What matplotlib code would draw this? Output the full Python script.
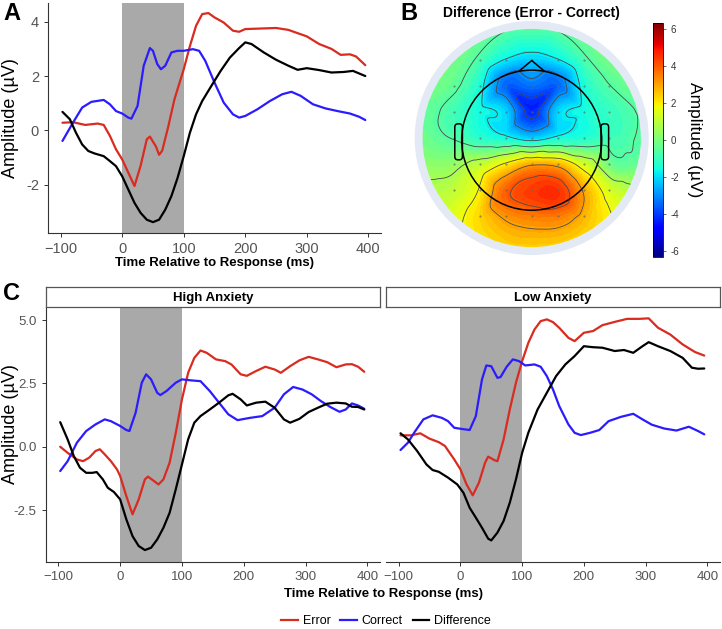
# ERN figure: grand averages, difference topography, and anxiety split
import numpy as np
import matplotlib
matplotlib.use('Agg')
import matplotlib.pyplot as plt
import matplotlib.tri as mtri
from matplotlib.patches import Circle, Polygon, FancyBboxPatch
from matplotlib.colors import Normalize
from matplotlib.cm import ScalarMappable

plt.rcParams['font.family'] = ['Liberation Sans', 'DejaVu Sans']

RED = '#d92b1f'
BLUE = '#2b1bff'
BLACK = '#000000'
SHADE = '#a9a9a9'
TICKC = '#555555'

# ---- Panel A: all participants ----
a_err_t = [-97, -80, -60, -40, -30, -20, -10, 0, 10, 20, 30, 40, 45, 55, 60, 65, 75, 85, 100,
           110, 120, 130, 140, 150, 165, 180, 190, 200, 225, 250, 270, 290, 300, 320, 340, 355,
           370, 380, 395]
a_err_v = [0.28, 0.3, 0.2, 0.25, 0.2, -0.2, -0.7, -1.07, -1.56, -2.05, -1.3, -0.33, -0.23, -0.6,
           -0.9, -0.75, 0.15, 1.15, 2.25, 3.1, 3.85, 4.28, 4.32, 4.16, 3.97, 3.67, 3.63, 3.73,
           3.75, 3.77, 3.7, 3.54, 3.46, 3.18, 3.0, 2.78, 2.8, 2.72, 2.4]
a_cor_t = [-97, -80, -65, -50, -30, -20, -10, 0, 10, 15, 25, 35, 45, 50, 57, 63, 70, 80, 90, 100,
           115, 125, 135, 150, 165, 180, 190, 200, 220, 240, 260, 275, 290, 310, 330, 350, 370,
           385, 395]
a_cor_v = [-0.39, 0.28, 0.84, 1.05, 1.12, 0.96, 0.71, 0.62, 0.47, 0.43, 0.9, 2.38, 3.03, 2.93,
           2.44, 2.25, 2.38, 2.87, 2.93, 2.93, 2.99, 2.93, 2.56, 1.76, 1.02, 0.59, 0.47, 0.53,
           0.78, 1.08, 1.33, 1.42, 1.27, 0.96, 0.81, 0.71, 0.62, 0.5, 0.38]
a_dif_t = [-97, -85, -75, -65, -55, -45, -30, -20, -10, 0, 10, 20, 30, 40, 50, 60, 70, 80, 90,
           100, 110, 120, 130, 145, 160, 175, 190, 200, 210, 230, 250, 270, 285, 300, 320, 340,
           360, 375, 395]
a_dif_v = [0.68, 0.41, -0.09, -0.52, -0.76, -0.85, -0.95, -1.13, -1.32, -1.69, -2.18, -2.67,
           -3.04, -3.29, -3.38, -3.29, -2.92, -2.42, -1.75, -0.95, -0.09, 0.59, 1.08, 1.64, 2.19,
           2.68, 3.03, 3.24, 3.18, 2.87, 2.6, 2.38, 2.23, 2.29, 2.22, 2.13, 2.15, 2.19, 2.0]

# ---- Panel C: high anxiety ----
hi_err_t = [-97, -85, -70, -60, -50, -40, -33, -25, -15, -5, 0, 10, 20, 30, 40, 45, 55, 62, 70,
            80, 90, 100, 110, 120, 130, 140, 155, 170, 180, 195, 205, 220, 235, 250, 260, 275,
            290, 305, 320, 335, 350, 365, 375, 385, 395]
hi_err_v = [0.0, -0.24, -0.5, -0.57, -0.43, -0.17, -0.1, -0.3, -0.57, -0.9, -1.16, -1.95, -2.67,
            -2.08, -1.29, -1.18, -1.36, -1.49, -1.29, -0.63, 0.55, 1.87, 2.92, 3.51, 3.8, 3.71,
            3.45, 3.38, 3.25, 2.86, 2.8, 2.99, 3.16, 3.05, 2.92, 3.18, 3.41, 3.55, 3.45, 3.34,
            3.14, 3.25, 3.26, 3.16, 2.96]
hi_cor_t = [-97, -85, -70, -55, -40, -25, -15, 0, 10, 15, 25, 35, 42, 50, 60, 65, 75, 90, 100,
            115, 130, 145, 160, 175, 190, 210, 230, 250, 265, 280, 295, 310, 325, 340, 355, 365,
            375, 385, 395]
hi_cor_v = [-0.96, -0.57, 0.16, 0.62, 0.88, 1.08, 1.01, 0.82, 0.66, 0.62, 1.34, 2.53, 2.86, 2.66,
            2.13, 2.04, 2.2, 2.53, 2.66, 2.62, 2.59, 2.2, 1.74, 1.28, 1.05, 1.14, 1.21, 1.54,
            2.07, 2.36, 2.26, 2.07, 1.8, 1.57, 1.38, 1.47, 1.71, 1.63, 1.5]
hi_dif_t = [-97, -85, -75, -65, -55, -45, -38, -28, -20, -10, 0, 10, 20, 30, 40, 50, 60, 70, 80,
            90, 100, 110, 120, 130, 145, 160, 175, 182, 195, 205, 220, 235, 250, 265, 275, 290,
            305, 320, 335, 350, 365, 375, 385, 395]
hi_dif_v = [0.97, 0.29, -0.37, -0.83, -1.03, -1.03, -1.0, -1.29, -1.62, -1.79, -2.08, -2.87,
            -3.53, -3.92, -4.08, -3.99, -3.66, -3.2, -2.61, -1.68, -0.7, 0.29, 0.95, 1.21, 1.47,
            1.74, 2.03, 2.09, 1.87, 1.63, 1.74, 1.78, 1.54, 1.08, 0.95, 1.1, 1.37, 1.54, 1.7,
            1.74, 1.71, 1.58, 1.57, 1.47]

# ---- Panel C: low anxiety ----
lo_err_t = [-97, -80, -65, -50, -35, -25, -10, 0, 10, 20, 30, 40, 45, 55, 60, 70, 80, 90, 100,
            110, 120, 130, 140, 150, 160, 175, 185, 200, 215, 230, 250, 270, 290, 305, 320, 340,
            360, 380, 395]
lo_err_v = [0.45, 0.45, 0.53, 0.32, 0.18, 0.03, -0.5, -0.89, -1.49, -1.92, -1.42, -0.63, -0.39,
            -0.53, -0.57, 0.29, 1.47, 2.53, 3.38, 4.1, 4.63, 4.96, 5.03, 4.92, 4.7, 4.3, 4.17,
            4.5, 4.57, 4.8, 4.93, 5.05, 5.05, 5.07, 4.7, 4.43, 4.04, 3.74, 3.6]
lo_cor_t = [-97, -85, -75, -60, -45, -30, -20, -10, 0, 15, 25, 35, 42, 50, 60, 65, 75, 85, 95,
            105, 120, 130, 140, 150, 160, 175, 185, 195, 210, 225, 240, 260, 280, 295, 310, 330,
            350, 370, 385, 395]
lo_cor_v = [-0.13, 0.16, 0.55, 1.08, 1.24, 1.14, 1.01, 0.75, 0.71, 0.66, 1.21, 2.66, 3.21, 3.18,
            2.72, 2.75, 3.16, 3.45, 3.38, 3.21, 3.25, 3.16, 2.79, 2.26, 1.61, 0.88, 0.55, 0.46,
            0.55, 0.66, 1.01, 1.18, 1.3, 1.08, 0.87, 0.72, 0.64, 0.79, 0.62, 0.49]
lo_dif_t = [-97, -85, -70, -55, -45, -35, -20, -5, 5, 15, 25, 35, 45, 50, 60, 70, 80, 90, 100,
            110, 125, 140, 155, 170, 185, 200, 215, 230, 250, 265, 280, 295, 305, 320, 340, 360,
            375, 385, 395]
lo_dif_v = [0.53, 0.29, -0.17, -0.7, -0.92, -0.99, -1.22, -1.49, -1.82, -2.41, -2.8, -3.2,
            -3.63, -3.7, -3.39, -2.93, -2.21, -1.29, -0.24, 0.55, 1.47, 2.13, 2.79, 3.25, 3.58,
            3.97, 3.93, 3.91, 3.78, 3.82, 3.71, 3.97, 4.13, 3.97, 3.78, 3.51, 3.12, 3.08, 3.09]

# ---- Panel B: difference topography on a 9x9 scalp grid (rows top -> bottom) ----
topo_x = [-1, -0.75, -0.5, -0.25, 0, 0.25, 0.5, 0.75, 1]
topo_y = [1, 0.75, 0.5, 0.25, 0, -0.25, -0.5, -0.75, -1]
topo_v = [
    [0.2, 0.1, -0.2, -0.5, -0.6, -0.5, -0.2, 0.1, 0.2],
    [0.2, 0.0, -0.6, -1.6, -2.0, -1.6, -0.6, 0.0, 0.2],
    [0.0, -0.3, -1.3, -3.4, -3.2, -3.4, -1.3, -0.5, 0.0],
    [-0.3, -0.8, -1.5, -2.1, -4.3, -2.1, -1.5, -1.0, -0.5],
    [-0.2, -0.6, -1.2, -1.6, -2.2, -1.6, -1.3, -0.9, -0.5],
    [0.3, 0.3, 1.0, 2.0, 3.0, 2.8, 1.3, -0.3, -0.3],
    [0.8, 1.0, 1.8, 3.8, 4.4, 4.5, 2.8, 1.3, 0.8],
    [1.2, 1.5, 2.2, 3.0, 3.3, 3.3, 2.6, 1.8, 1.4],
    [1.5, 1.7, 2.0, 2.3, 2.4, 2.3, 2.0, 1.7, 1.5],
]
cbar_ticks = [-6, -4, -2, 0, 2, 4, 6]

W, H = 722, 629
fig = plt.figure(figsize=(W / 100, H / 100), dpi=100)


def px_axes(x0, y0, x1, y1):
    # axes from pixel box (top-left origin)
    return fig.add_axes([x0 / W, 1 - y1 / H, (x1 - x0) / W, (y1 - y0) / H])


def style_erp(ax, ylim, yticks, tsize, show_y=True):
    ax.axvspan(0, 100, color=SHADE, lw=0, zorder=0)
    ax.set_xlim(-120.5, 420.5)
    ax.set_ylim(*ylim)
    ax.set_xticks([-100, 0, 100, 200, 300, 400])
    ax.set_yticks(yticks)
    for s in ['top', 'right']:
        ax.spines[s].set_visible(False)
    for s in ['left', 'bottom']:
        ax.spines[s].set_color('#333333')
        ax.spines[s].set_linewidth(0.8)
    ax.tick_params(colors='#333333', labelcolor=TICKC, labelsize=tsize, length=3, width=0.7)
    if not show_y:
        ax.spines['left'].set_visible(False)
        ax.tick_params(axis='y', left=False, labelleft=False)


def draw_lines(ax, series):
    for t, v, c in series:
        ax.plot(t, v, color=c, lw=1.6, solid_joinstyle='round', solid_capstyle='round')


# Panel A
axA = px_axes(48, 3, 381, 233)
style_erp(axA, (-3.78, 4.69), [-2, 0, 2, 4], 10.5)
axA.set_yticklabels(['-2', '0', '2', '4'])
draw_lines(axA, [(a_err_t, a_err_v, RED), (a_cor_t, a_cor_v, BLUE), (a_dif_t, a_dif_v, BLACK)])
axA.set_ylabel('Amplitude (µV)', fontsize=13)
axA.yaxis.set_label_coords(-(48 - 19) / 333, 0.5)
axA.set_xlabel('Time Relative to Response (ms)', fontsize=9.5, fontweight='bold', labelpad=1)
fig.text(3 / W, 1 - 20 / H, 'A', fontsize=17, fontweight='bold')

# Panel B
axB = px_axes(411.7, 18, 651.7, 258)
axB.set_xlim(-1.10, 1.10)
axB.set_ylim(-1.10, 1.10)
axB.set_aspect('equal')
axB.axis('off')
gx, gy = np.meshgrid(topo_x, topo_y)
tri = mtri.Triangulation(gx.ravel(), gy.ravel())
interp = mtri.CubicTriInterpolator(tri, np.array(topo_v).ravel(), kind='geom')
fx, fy = np.meshgrid(np.linspace(-1, 1, 241), np.linspace(-1, 1, 241))
fz = interp(fx, fy)
axB.add_patch(Circle((0, 0), 1.073, color='#e3e9f5', lw=0, zorder=0))
disc = Circle((0, 0), 1.0, transform=axB.transData)
norm = Normalize(-6.3, 6.3)
cf = axB.contourf(fx, fy, fz, levels=np.linspace(-6.3, 6.3, 64), cmap='jet', norm=norm,
                  extend='both', zorder=1)
cf.set_clip_path(disc)
cl = axB.contour(fx, fy, fz, levels=[-4.0, -3.0, -1.8, -0.6, 0.6, 1.8, 3.0, 4.0],
                 colors='#4a4a4a', linewidths=0.6, linestyles='solid', zorder=2)
cl.set_clip_path(disc)
inside = gx ** 2 + gy ** 2 < 0.9
axB.plot(gx[inside] * 0.95, gy[inside] * 0.95, '.', color='#666666', ms=0.8, zorder=3)
# head outline
axB.add_patch(Circle((0, -0.02), 0.642, fill=False, ec='black', lw=1.1, zorder=4))
axB.add_patch(Polygon([[-0.12, 0.61], [0, 0.71], [0.12, 0.61]], closed=False, fill=False,
                      ec='black', lw=1.1, zorder=4))
for sgn in (-1, 1):
    axB.add_patch(FancyBboxPatch((sgn * 0.67 - 0.025, -0.19), 0.05, 0.31,
                                 boxstyle='round,pad=0.01,rounding_size=0.03',
                                 fill=False, ec='black', lw=1.1, zorder=4))
fig.text(400 / W, 1 - 20 / H, 'B', fontsize=17, fontweight='bold')
fig.text(531 / W, 1 - 17 / H, 'Difference (Error - Correct)', fontsize=10, fontweight='bold',
         ha='center')

cax = px_axes(653, 23, 663, 257)
cb = fig.colorbar(ScalarMappable(norm=norm, cmap='jet'), cax=cax, ticks=cbar_ticks)
cb.outline.set_linewidth(0.6)
cax.tick_params(labelsize=7, length=2, width=0.5, colors='#333333')
cax.set_yticklabels([str(t) for t in cbar_ticks])
cb.set_label('Amplitude (µV)', fontsize=12.5, rotation=270, labelpad=16)

# Panel C
ylimC = (-4.54, 5.53)
axH = px_axes(45.7, 306.7, 380, 561.7)
style_erp(axH, ylimC, [-2.5, 0, 2.5, 5.0], 9.5)
axH.set_yticklabels(['-2.5', '0.0', '2.5', '5.0'])
draw_lines(axH, [(hi_err_t, hi_err_v, RED), (hi_cor_t, hi_cor_v, BLUE), (hi_dif_t, hi_dif_v, BLACK)])
axH.set_ylabel('Amplitude (µV)', fontsize=13)
axH.yaxis.set_label_coords(-(45.7 - 19) / 334.3, (561.7 - 424) / 255)

axL = px_axes(386, 306.7, 720, 561.7)
style_erp(axL, ylimC, [-2.5, 0, 2.5, 5.0], 9.5, show_y=False)
draw_lines(axL, [(lo_err_t, lo_err_v, RED), (lo_cor_t, lo_cor_v, BLUE), (lo_dif_t, lo_dif_v, BLACK)])

for (x0, x1), name in [((46, 380), 'High Anxiety'), ((386, 720), 'Low Anxiety')]:
    sax = px_axes(x0, 287, x1, 306.5)
    sax.set_xticks([])
    sax.set_yticks([])
    for s in sax.spines.values():
        s.set_color('#555555')
        s.set_linewidth(0.9)
    sax.text(0.5, 0.45, name, transform=sax.transAxes, ha='center', va='center',
             fontsize=9.5, fontweight='bold')

fig.text(383 / W, 1 - 597 / H, 'Time Relative to Response (ms)', fontsize=9.5,
         fontweight='bold', ha='center')
fig.text(3 / W, 1 - 300 / H, 'C', fontsize=17, fontweight='bold')

handles = [plt.Line2D([], [], color=c, lw=1.6) for c in (RED, BLUE, BLACK)]
fig.legend(handles, ['Error', 'Correct', 'Difference'], loc='center',
           bbox_to_anchor=(386 / W, 1 - 621 / H), ncol=3, frameon=False, fontsize=9,
           handlelength=1.3, handletextpad=0.4, columnspacing=0.8)

fig.savefig('out.png', dpi=100)
